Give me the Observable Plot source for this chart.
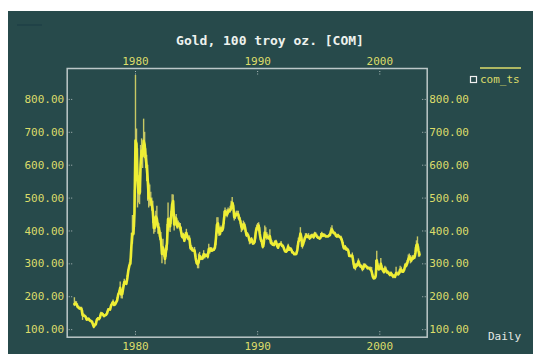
<!DOCTYPE html>
<html>
<head>
<meta charset="utf-8">
<script src="https://cdn.jsdelivr.net/npm/d3@7"></script>
<script src="https://cdn.jsdelivr.net/npm/@observablehq/plot@0.6"></script>
<style>
  html, body { margin: 0; padding: 0; background: #ffffff; }
  #chart { position: absolute; left: 8px; top: 11px; }
</style>
</head>
<body>
<div id="chart"></div>
<script>
// COMEX gold, 100 troy oz. contract — monthly summary of the daily series, Jan 1975 – Apr 2003
const startYear = 1975;

// monthly average price (USD / oz)
const avg = [
  178,180,178,170,167,164,165,163,144,142,142,139, // 1975
  131,131,133,128,126,125,118,109,114,116,130,134, // 1976
  132,136,148,149,146,141,143,145,149,159,162,161, // 1977
  173,179,184,175,177,183,189,206,213,227,207,208, // 1978
  227,245,242,239,257,280,295,301,355,392,392,456, // 1979
  675,665,554,517,514,600,644,627,674,662,623,596, // 1980
  557,500,499,495,480,461,409,410,444,437,413,410, // 1981
  384,374,330,350,334,315,339,364,436,422,414,444, // 1982
  481,491,420,432,438,413,422,416,412,394,382,388, // 1983
  370,386,394,381,377,377,348,348,341,340,341,320, // 1984
  303,299,304,324,316,317,317,330,323,326,325,322, // 1985
  345,339,346,340,342,343,349,376,418,423,398,391, // 1986
  408,401,409,438,460,450,450,461,460,465,469,486, // 1987
  477,442,444,452,451,451,437,431,413,406,420,419, // 1988
  404,388,390,384,371,367,375,365,362,367,392,409, // 1989
  410,417,393,374,369,352,362,395,389,381,381,378, // 1990
  384,364,363,358,357,366,368,356,349,358,360,361, // 1991
  354,354,345,338,337,341,353,343,345,344,335,334, // 1992
  329,329,330,342,367,372,392,379,355,364,374,383, // 1993
  387,382,384,378,381,386,385,381,391,389,384,380, // 1994
  379,377,382,391,385,387,386,383,383,383,386,387, // 1995
  400,405,396,393,392,385,383,387,383,381,378,369, // 1996
  355,347,352,344,344,341,324,324,323,325,306,289, // 1997
  289,297,296,308,299,292,293,284,289,296,294,291, // 1998
  287,287,286,282,277,262,256,257,264,311,293,283, // 1999
  285,300,286,280,275,286,282,274,274,270,266,272, // 2000
  266,262,263,261,272,270,268,272,283,283,276,276, // 2001
  282,296,294,302,314,321,314,310,319,317,319,333, // 2002
  357,359,340,328                                  // 2003
];

// monthly high
const hi = [
  197,186,185,178,172,169,168,168,158,148,145,142,
  137,135,135,131,129,127,124,113,118,121,133,137,
  136,143,153,152,149,144,145,147,154,164,164,165,
  176,183,190,181,180,186,197,211,218,245,222,213,
  237,253,248,246,265,283,303,314,393,447,410,524,
  873,710,650,568,550,660,680,640,740,700,650,630,
  600,545,540,518,500,490,430,440,460,475,425,422,
  400,395,350,375,345,330,355,420,485,440,438,460,
  510,509,430,445,450,420,430,425,423,410,391,393,
  377,395,405,390,385,385,360,355,350,345,350,330,
  310,310,330,335,325,322,325,340,330,330,330,330,
  360,350,350,348,345,348,352,390,440,440,412,395,
  415,410,420,460,470,460,465,470,465,475,490,502,
  485,455,455,460,460,460,440,440,420,412,430,425,
  412,395,395,390,380,375,380,370,365,375,405,418,
  423,425,410,380,375,360,375,415,410,395,390,385,
  404,375,370,362,362,370,372,362,352,362,363,368,
  358,357,350,340,340,345,360,350,350,348,340,337,
  332,332,337,355,378,380,410,390,365,370,380,392,
  392,386,392,385,388,390,390,387,396,395,390,385,
  382,380,392,396,390,392,390,387,386,386,390,390,
  410,416,400,398,396,390,387,390,386,384,384,375,
  365,350,356,350,348,345,335,327,327,333,315,298,
  300,300,302,315,303,297,296,290,300,300,299,295,
  292,290,290,290,289,268,262,262,310,338,300,290,
  290,316,294,287,282,293,290,280,278,275,270,275,
  270,266,268,265,290,275,272,275,293,290,281,280,
  285,301,303,310,327,330,325,316,325,325,323,350,
  370,382,352,337
];

// monthly low
const lo = [
  170,172,172,164,163,161,161,158,128,139,138,134,
  125,128,129,126,124,123,111,103,108,113,125,130,
  129,132,143,146,142,138,140,143,146,154,158,158,
  170,176,180,170,173,180,184,199,207,215,194,193,
  218,234,237,234,245,277,291,295,316,360,385,410,
  558,620,470,485,480,515,610,590,630,620,590,550,
  490,470,475,475,460,423,390,395,420,420,390,390,
  370,355,300,330,320,297,320,340,400,400,395,420,
  450,470,400,414,430,405,410,405,400,380,376,375,
  365,373,385,372,370,370,340,345,337,335,335,308,
  298,285,285,310,310,310,310,320,315,320,320,315,
  330,330,338,335,338,338,343,355,390,410,383,385,
  395,395,400,420,450,445,440,450,455,455,460,475,
  465,430,435,445,445,435,430,420,395,400,410,410,
  395,380,385,380,358,360,365,356,358,362,375,400,
  400,405,380,365,362,345,350,375,380,372,375,372,
  370,357,355,354,353,360,362,350,345,355,356,355,
  350,350,340,336,333,337,345,338,340,340,330,331,
  326,326,326,335,355,365,380,350,345,355,365,375,
  378,377,378,371,375,380,380,375,385,385,378,375,
  375,374,375,385,380,385,383,380,380,380,382,384,
  390,395,394,390,389,382,380,385,380,378,370,366,
  345,342,347,338,340,337,320,322,320,320,296,283,
  279,293,290,302,290,287,290,276,280,290,290,286,
  282,283,280,278,270,258,252,252,255,290,290,280,
  280,285,280,276,270,275,278,270,270,265,263,268,
  260,255,256,255,262,265,265,266,270,277,272,272,
  277,288,288,298,306,315,300,303,313,311,315,320,
  343,345,320,320
];

const yTicks = [100, 200, 300, 400, 500, 600, 700, 800];
const xTicks = [1980, 1990, 2000];
const titleText = "Gold, 100 troy oz. [COM]";
const seriesName = "com_ts";
const frequencyText = "Daily";

const months = avg.map((v, i) => ({t: startYear + i / 12, avg: v, hi: hi[i], lo: lo[i]}));

const BG = "#274a4b";
const YELLOW = "#dcdc6a";
const LINE = "#eeee34";
const RANGE = "#c8c864";
const FRAME = "#bcc8c8";
const TICK = "#b0bcbc";
const MONO = "'DejaVu Sans Mono', 'Liberation Mono', monospace";

const W = 525, H = 343;
const fmt = d => d.toFixed(2);

const chart = Plot.plot({
  width: W,
  height: H,
  marginLeft: 58.7,
  marginRight: 106.3,
  marginTop: 57,
  marginBottom: 17.3,
  style: {background: BG, fontFamily: MONO, fontSize: "11px", color: YELLOW, overflow: "visible"},
  x: {domain: [1974.41, 2003.88]},
  y: {domain: [77, 894]},
  marks: [
    // tick labels
    Plot.axisY(yTicks, {anchor: "left", tickSize: 0, tickPadding: 3, tickFormat: fmt, fill: YELLOW, label: null}),
    Plot.axisY(yTicks, {anchor: "right", tickSize: 0, tickPadding: 2, tickFormat: fmt, fill: YELLOW, label: null}),
    Plot.axisX(xTicks, {anchor: "top", tickSize: 0, tickPadding: 4, tickFormat: d => String(d), fill: YELLOW, label: null}),
    Plot.axisX(xTicks, {anchor: "bottom", tickSize: 0, tickPadding: 5, tickFormat: d => String(d), fill: YELLOW, label: null}),
    // short dotted ticks drawn just inside the frame
    Plot.axisY(yTicks, {anchor: "left", tickSize: 4, dx: 5.5, fill: "none", stroke: TICK, strokeDasharray: "1,1.5", label: null}),
    Plot.axisY(yTicks, {anchor: "right", tickSize: 4, dx: -5.5, fill: "none", stroke: TICK, strokeDasharray: "1,1.5", label: null}),
    Plot.axisX(xTicks, {anchor: "top", tickSize: 4, dy: 5.5, fill: "none", stroke: TICK, strokeDasharray: "1,1.5", label: null}),
    Plot.axisX(xTicks, {anchor: "bottom", tickSize: 4, dy: -5.5, fill: "none", stroke: TICK, strokeDasharray: "1,1.5", label: null}),
    // monthly trading range and price path
    Plot.ruleX(months, {x: "t", y1: "lo", y2: "hi", stroke: RANGE, strokeWidth: 1.4}),
    Plot.lineY(months, {x: "t", y: "avg", stroke: LINE, strokeWidth: 2.6}),
    Plot.frame({stroke: FRAME, strokeWidth: 1.5})
  ]
});

const svg = d3.select(chart);

// small divider at the top-left corner
svg.append("line")
  .attr("x1", 9).attr("x2", 34).attr("y1", 14).attr("y2", 14)
  .attr("stroke", "#1f4146").attr("stroke-width", 1.5);

// title
svg.append("text")
  .attr("x", 262).attr("y", 29)
  .attr("text-anchor", "middle").attr("dominant-baseline", "central")
  .attr("font-family", MONO).attr("font-weight", "bold").attr("font-size", 13)
  .attr("fill", "#eef2ee")
  .text(titleText);

// legend entry
svg.append("rect")
  .attr("x", 462.5).attr("y", 65.5).attr("width", 6).attr("height", 6)
  .attr("fill", "none").attr("stroke", "#f0f0f0").attr("stroke-width", 1.2);
svg.append("line")
  .attr("x1", 472).attr("x2", 513).attr("y1", 57).attr("y2", 57)
  .attr("stroke", YELLOW).attr("stroke-width", 1.5);
svg.append("text")
  .attr("x", 472).attr("y", 68)
  .attr("text-anchor", "start").attr("dominant-baseline", "central")
  .attr("font-family", MONO).attr("font-size", 11)
  .attr("fill", YELLOW)
  .text(seriesName);

// sampling frequency note
svg.append("text")
  .attr("x", 480).attr("y", 325.5)
  .attr("text-anchor", "start").attr("dominant-baseline", "central")
  .attr("font-family", MONO).attr("font-size", 11)
  .attr("fill", "#e4e8e4")
  .text(frequencyText);

document.getElementById("chart").appendChild(chart);
</script>
</body>
</html>
